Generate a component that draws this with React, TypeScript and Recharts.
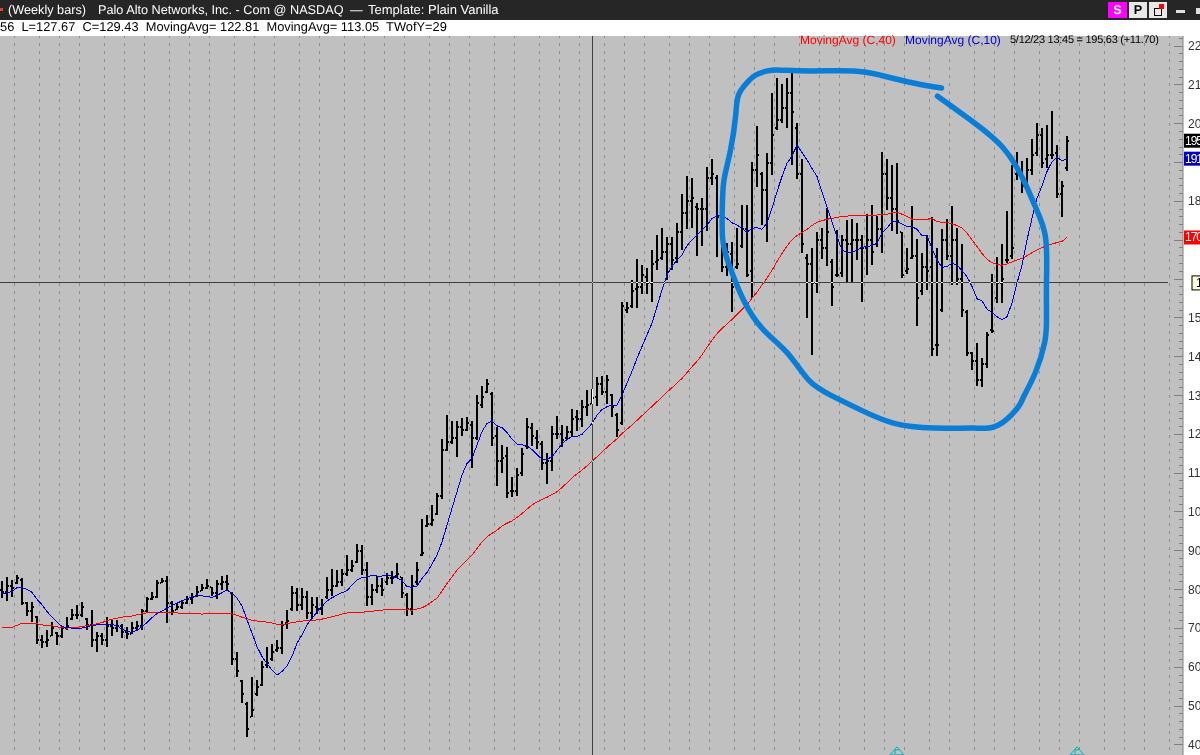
import { ComposedChart, Bar, Line, XAxis, YAxis, CartesianGrid, ReferenceLine, ReferenceDot } from 'recharts';

const highs = [
  82.3, 83.2, 82.5, 83.8, 82.9, 76.9, 76.9, 73.1, 68.3, 69.6, 71.6, 69.0, 70.7, 72.9, 75.0, 76.1, 76.8, 72.8, 74.8, 69.2,
  68.8, 72.9, 72.2, 72.2, 71.2, 70.3, 71.6, 71.8, 75.0, 78.2, 79.3, 82.5, 82.9, 83.6, 77.1, 76.5, 77.4, 78.4, 79.2, 81.0,
  81.4, 82.7, 80.8, 82.5, 83.4, 83.8, 79.3, 64.0, 56.8, 51.0, 57.5, 56.8, 61.7, 65.3, 66.0, 67.1, 72.0, 74.8, 81.0, 80.4,
  80.3, 79.6, 78.2, 78.0, 77.6, 83.2, 85.2, 85.0, 85.2, 88.9, 87.6, 91.7, 91.5, 87.0, 81.4, 83.5, 82.9, 84.2, 84.8, 86.8,
  83.3, 79.0, 83.8, 87.0, 98.3, 99.2, 101.9, 105.0, 118.9, 124.9, 123.4, 123.5, 124.1, 124.5, 123.4, 130.1, 132.4, 134.2, 130.8, 121.9,
  117.2, 116.8, 108.9, 111.2, 116.4, 124.3, 122.8, 121.1, 118.3, 115.2, 122.1, 124.7, 122.4, 122.2, 126.4, 126.2, 128.8, 131.4, 131.6, 134.8,
  135.1, 135.4, 130.5, 125.5, 154.2, 154.2, 159.8, 165.2, 163.6, 162.8, 167.5, 171.4, 173.1, 170.9, 170.9, 174.4, 181.8, 186.5, 185.9, 179.5,
  180.8, 188.8, 190.8, 186.8, 178.6, 169.2, 169.6, 173.1, 179.1, 179.1, 190.1, 199.4, 187.5, 192.4, 207.8, 211.7, 210.2, 211.7, 213.4, 200.1,
  190.8, 166.4, 167.9, 172.2, 173.1, 178.2, 165.2, 172.6, 171.4, 175.2, 175.5, 174.4, 171.4, 176.7, 179.1, 176.3, 192.6, 190.9, 189.4, 189.8,
  172.2, 167.9, 178.8, 170.2, 166.6, 171.4, 175.9, 167.9, 172.8, 175.4, 178.8, 173.1, 169.0, 152.0, 141.3, 143.5, 139.6, 146.3, 161.3, 165.8,
  169.0, 177.5, 189.4, 192.6, 190.4, 191.3, 196.0, 200.1, 198.8, 199.7, 203.3, 194.5, 185.3, 196.8,
];

const lows = [
  78.0, 76.9, 78.0, 81.6, 75.9, 73.2, 71.8, 65.8, 64.9, 65.3, 67.9, 65.6, 67.7, 69.6, 72.2, 72.5, 72.9, 69.6, 65.3, 64.0,
  65.8, 65.3, 68.2, 69.0, 67.5, 67.2, 68.5, 69.2, 69.5, 74.4, 77.2, 77.8, 81.6, 71.5, 73.5, 74.6, 75.2, 76.3, 76.3, 78.2,
  79.5, 80.1, 78.4, 77.6, 79.8, 79.9, 60.4, 57.6, 50.9, 41.9, 47.1, 52.7, 55.3, 59.8, 61.5, 64.0, 63.5, 70.0, 74.6, 74.4,
  74.6, 72.3, 72.6, 73.5, 73.6, 77.5, 78.2, 80.5, 80.8, 83.5, 84.6, 86.8, 83.9, 75.6, 76.0, 79.2, 78.2, 81.2, 81.4, 82.9,
  77.8, 73.0, 73.5, 81.2, 88.7, 96.0, 96.4, 99.4, 103.5, 115.5, 117.6, 114.2, 119.4, 120.9, 111.4, 118.5, 126.7, 130.5, 117.0, 106.8,
  109.9, 103.7, 103.8, 104.1, 109.2, 116.4, 117.0, 116.1, 110.8, 107.2, 110.4, 118.9, 116.8, 118.5, 119.5, 120.7, 121.9, 124.7, 127.67, 127.3,
  130.1, 127.9, 124.5, 119.4, 122.4, 151.4, 152.7, 152.7, 156.1, 156.1, 154.2, 162.3, 164.9, 159.8, 162.3, 164.1, 167.5, 172.9, 172.9, 165.8,
  168.4, 172.2, 184.2, 165.6, 161.9, 160.6, 151.6, 162.5, 167.9, 160.6, 155.1, 183.6, 173.8, 169.4, 186.6, 198.4, 200.1, 198.8, 189.4, 185.7,
  166.6, 149.9, 140.3, 156.6, 165.2, 163.2, 153.2, 160.5, 160.5, 159.3, 159.3, 164.9, 154.2, 161.1, 163.6, 168.4, 166.5, 177.8, 172.4, 171.4,
  160.4, 161.3, 165.2, 147.8, 155.9, 157.2, 140.0, 140.2, 151.4, 164.9, 158.5, 158.5, 150.2, 140.2, 136.6, 132.5, 132.1, 137.0, 146.0, 153.9,
  153.9, 164.1, 165.2, 185.3, 182.2, 183.8, 186.8, 191.7, 188.5, 188.5, 190.9, 180.8, 176.1, 187.7,
];

const closes = [
  79.5, 81.0, 80.5, 83.0, 76.5, 74.5, 75.5, 67.0, 66.5, 67.0, 70.0, 68.0, 70.0, 70.5, 73.5, 73.5, 75.5, 71.0, 67.0, 68.0,
  67.0, 70.5, 70.0, 70.5, 69.0, 68.5, 70.0, 70.5, 74.5, 77.5, 78.0, 81.8, 82.3, 76.5, 74.5, 75.5, 76.5, 77.5, 78.0, 79.5,
  80.5, 81.0, 79.0, 81.5, 82.0, 81.5, 62.0, 59.0, 53.0, 44.0, 49.0, 55.0, 60.0, 61.0, 64.0, 65.0, 71.0, 72.0, 79.0, 76.0,
  78.0, 74.0, 76.0, 75.0, 76.0, 80.0, 81.0, 82.0, 84.0, 85.0, 86.0, 90.0, 85.0, 78.0, 80.0, 81.0, 80.0, 83.0, 83.0, 84.0,
  79.0, 75.0, 81.0, 85.0, 89.5, 97.0, 98.0, 104.0, 116.0, 118.0, 119.0, 122.0, 121.0, 123.0, 119.0, 128.0, 129.5, 133.0, 119.0, 113.0,
  114.0, 105.0, 105.5, 109.5, 115.0, 122.0, 119.5, 118.0, 112.5, 113.0, 120.0, 120.0, 118.5, 120.5, 124.0, 124.0, 127.0, 127.5, 129.43, 133.0,
  131.0, 134.0, 127.0, 121.0, 153.0, 152.5, 157.0, 158.0, 161.0, 159.0, 164.0, 165.0, 167.0, 169.0, 165.0, 172.0, 177.0, 180.0, 181.0, 178.0,
  178.0, 186.0, 187.0, 176.0, 163.0, 167.0, 158.0, 164.0, 173.0, 161.0, 188.0, 192.0, 183.0, 190.0, 197.0, 201.0, 204.0, 208.0, 203.0, 187.0,
  169.0, 164.0, 159.0, 170.0, 168.0, 172.0, 158.0, 161.0, 170.0, 169.0, 170.0, 170.0, 168.0, 170.0, 167.0, 173.0, 187.0, 181.0, 178.0, 175.0,
  161.0, 162.5, 166.0, 155.0, 163.0, 162.0, 142.0, 143.0, 170.0, 166.0, 170.0, 160.0, 152.0, 141.0, 139.0, 134.0, 138.0, 145.5, 146.5, 159.0,
  160.0, 165.0, 168.0, 187.0, 184.0, 188.0, 192.0, 197.0, 190.0, 192.0, 192.0, 182.0, 183.93, 195.63,
];

const opens = [
  80.0, 79.5, 81.0, 81.6, 82.5, 76.5, 74.5, 73.0, 67.0, 66.5, 68.0, 68.9, 68.0, 70.0, 72.5, 73.5, 73.5, 72.5, 71.0, 67.0,
  68.0, 67.0, 70.5, 70.0, 70.5, 69.0, 68.5, 70.0, 70.5, 74.5, 77.5, 78.0, 81.8, 82.3, 76.5, 74.7, 75.5, 76.5, 77.5, 78.3,
  79.6, 80.5, 80.7, 79.0, 81.5, 82.0, 79.0, 62.0, 56.5, 50.5, 47.2, 53.0, 55.5, 60.5, 62.0, 64.5, 65.0, 71.5, 75.0, 79.0,
  76.0, 78.0, 74.0, 75.5, 75.0, 78.0, 80.0, 81.0, 82.0, 84.0, 85.0, 87.0, 90.0, 85.0, 78.0, 80.0, 81.0, 82.0, 83.0, 83.5,
  83.2, 78.5, 75.0, 82.0, 89.0, 96.5, 97.0, 99.5, 104.0, 116.0, 118.0, 119.0, 122.0, 121.0, 122.5, 119.0, 127.5, 131.0, 130.5, 119.5,
  113.0, 114.5, 105.5, 105.5, 110.0, 117.0, 121.5, 119.0, 117.5, 112.5, 113.0, 120.0, 120.0, 119.0, 120.5, 124.5, 124.0, 127.0, 127.8, 129.5,
  133.0, 131.0, 130.0, 125.0, 123.0, 152.0, 153.0, 157.5, 158.0, 160.5, 159.0, 164.5, 165.5, 167.0, 169.0, 165.5, 172.0, 177.0, 180.0, 178.5,
  178.0, 178.0, 186.0, 186.0, 176.0, 163.0, 166.5, 163.0, 168.5, 173.0, 162.0, 188.0, 187.0, 183.0, 190.0, 199.0, 201.0, 204.0, 208.0, 199.0,
  187.0, 165.5, 164.0, 159.0, 170.0, 168.0, 164.5, 161.0, 161.5, 170.0, 169.0, 170.0, 170.0, 168.0, 170.0, 169.0, 173.0, 187.0, 181.0, 178.0,
  172.0, 162.0, 165.5, 166.0, 157.0, 163.0, 163.0, 143.0, 152.0, 170.0, 166.0, 170.0, 160.0, 151.5, 141.0, 139.0, 134.0, 138.0, 147.0, 155.0,
  159.0, 165.0, 166.0, 187.0, 187.0, 184.5, 188.0, 192.5, 197.0, 191.0, 192.0, 192.5, 182.0, 188.5,
];

const ma10 = [
  78.9, 79.2, 79.5, 80.5, 80.5, 80.1, 79.3, 77.5, 76.1, 74.4, 72.9, 71.6, 70.5, 70.2, 70.1, 70.1, 70.1, 70.3, 70.8, 70.9,
  70.9, 70.9, 71.0, 70.7, 69.8, 69.2, 69.0, 69.5, 70.5, 71.5, 72.8, 73.8, 74.5, 75.2, 75.9, 76.5, 77.1, 77.6, 78.2, 78.4,
  78.4, 78.2, 78.0, 78.5, 79.2, 79.9, 79.1, 77.8, 75.8, 72.2, 68.8, 65.3, 62.8, 60.9, 59.3, 58.0, 58.9, 60.4, 62.8, 66.2,
  68.3, 70.9, 72.6, 74.3, 75.8, 77.1, 77.9, 78.6, 79.2, 79.7, 81.2, 82.5, 83.1, 83.3, 83.6, 83.5, 83.5, 83.8, 83.5, 83.0,
  82.3, 80.8, 80.6, 80.9, 82.9, 84.4, 86.6, 88.9, 92.3, 96.6, 100.9, 105.2, 109.5, 112.5, 113.8, 117.2, 120.7, 122.8, 123.4, 122.2,
  121.7, 120.5, 118.8, 117.5, 117.3, 117.0, 116.1, 114.8, 113.6, 113.6, 114.2, 115.9, 117.5, 118.7, 119.4, 119.5, 120.0, 121.3, 122.81, 124.9,
  126.4, 127.1, 127.5, 127.5, 130.1, 133.2, 136.2, 139.6, 142.6, 145.6, 148.6, 152.9, 157.2, 161.1, 163.2, 164.9, 166.2, 168.6, 170.1, 171.4,
  172.6, 173.9, 175.6, 176.3, 176.3, 175.6, 174.5, 173.9, 173.1, 172.0, 173.1, 173.2, 172.8, 174.4, 178.2, 182.5, 186.4, 189.8, 191.7, 194.5,
  192.6, 190.7, 188.5, 186.4, 182.5, 178.6, 174.8, 170.9, 167.5, 166.8, 166.9, 167.5, 168.2, 168.3, 168.6, 169.2, 171.8, 173.1, 174.8, 174.8,
  174.2, 173.5, 173.5, 172.8, 171.1, 171.1, 167.9, 164.9, 163.0, 163.2, 164.1, 163.6, 162.2, 160.6, 158.1, 154.9, 154.4, 152.2, 151.4, 150.3,
  149.5, 150.3, 153.8, 158.9, 163.6, 170.1, 175.6, 180.8, 184.0, 187.7, 190.2, 191.3, 190.5, 190.9,
];

const ma40 = [
  70.3, 70.3, 70.3, 70.8, 71.4, 71.4, 71.4, 71.2, 70.9, 70.8, 70.7, 70.4, 70.2, 70.1, 70.2, 70.3, 70.5, 70.7, 70.9, 71.2,
  71.5, 72.0, 72.4, 72.6, 72.9, 73.1, 73.2, 73.5, 73.8, 74.0, 74.1, 74.2, 74.2, 74.2, 74.1, 74.0, 73.9, 73.9, 73.8, 73.8,
  73.7, 73.8, 73.8, 73.9, 73.9, 73.9, 73.7, 73.4, 72.9, 72.5, 72.1, 71.9, 71.8, 71.6, 71.4, 71.1, 70.9, 71.2, 71.5, 71.7,
  71.9, 72.0, 72.1, 72.2, 72.4, 72.7, 73.0, 73.3, 73.7, 74.0, 74.1, 74.1, 74.2, 74.3, 74.4, 74.6, 74.7, 74.9, 75.0, 75.0,
  75.0, 74.8, 74.7, 75.0, 75.3, 76.0, 76.9, 77.8, 79.6, 81.6, 83.3, 85.0, 86.3, 87.6, 88.9, 90.6, 92.3, 93.6, 94.5, 95.3,
  96.4, 97.1, 97.7, 98.6, 99.6, 100.7, 101.8, 102.6, 103.2, 103.8, 104.5, 105.2, 106.3, 107.5, 108.8, 109.8, 110.8, 111.9, 113.05, 114.2,
  115.5, 116.6, 117.8, 118.8, 120.2, 121.3, 122.4, 123.6, 124.8, 126.0, 127.2, 128.4, 129.6, 130.9, 132.0, 133.2, 134.4, 135.9, 137.4, 138.8,
  140.5, 142.4, 144.3, 145.9, 147.3, 148.4, 149.6, 150.9, 152.2, 153.3, 155.1, 156.6, 158.5, 160.2, 162.3, 164.5, 166.6, 168.5, 170.1, 171.2,
  172.0, 172.8, 173.8, 174.6, 175.0, 175.4, 175.6, 175.9, 176.1, 176.2, 176.4, 176.4, 176.3, 176.3, 176.4, 176.5, 176.6, 176.7, 177.1, 177.2,
  176.7, 176.1, 175.4, 175.2, 175.3, 175.4, 175.6, 174.8, 174.6, 174.6, 174.2, 173.8, 173.1, 171.8, 170.1, 168.4, 166.6, 165.1, 164.2, 163.8,
  163.5, 163.9, 164.4, 164.9, 165.3, 166.0, 166.8, 167.5, 168.1, 168.6, 169.0, 169.4, 169.7, 170.7,
];

// bar numbers of the monthly dashed separators
const monthBars = [
  2, 7, 11, 15, 20, 24, 28, 33, 37, 41, 46, 50, 54, 59, 63, 68, 72, 76, 80, 85, 89, 93, 98, 102, 107, 111, 115, 120, 124, 128,
  133, 137, 141, 146, 150, 154, 159, 163, 167, 172, 176, 180, 185, 189, 194, 198, 202, 207, 211, 215, 220, 224, 228, 233,
];

// the hand drawn circle, in bar number and price
const circleBars = [
  187.9, 182.3, 175.7, 170.3, 161.7, 155.7, 153.1, 150.7, 149.1, 147.3, 146.7, 145.7, 144.5, 144.1, 144.1, 145.3, 148.3, 152.3, 157.1,
  161.3, 165.7, 171.7, 178.3, 186.3, 194.3, 199.3, 203.1, 204.3, 206.7, 208.5, 208.9, 208.9, 208.7, 206.7, 204.3, 200.3, 194.3, 187.1,
];
const circlePrices = [
  209.2, 210.5, 212.5, 213.6, 213.6, 213.8, 213.6, 212.5, 210.7, 207.4, 201.7, 193.2, 186.3, 180.3, 170.8, 164.1, 154.6, 146.9, 140.9,
  134.0, 130.1, 126.3, 122.9, 121.6, 121.6, 122.4, 126.8, 129.6, 136.0, 143.5, 149.4, 159.7, 170.8, 178.5, 185.5, 193.7, 200.4, 207.1,
];

const priceTicks = Array.from({ length: 92 }, (_, n) => 40 + n * 2);
// axis labels that sit under the value boxes
const coveredLabels = [160, 170, 190];
const signalBars = [179, 215];
const cursorBar = 118.1;
const cursorPrice = 159;

const rows = highs.map((h, i) => ({
  i,
  range: [lows[i], h],
  open: opens[i],
  close: closes[i],
  ma10: ma10[i],
  ma40: ma40[i],
}));
const circleRows = circleBars.map((i, n) => ({ i, circle: circlePrices[n] }));

const OhlcBar = (props: any) => {
  const { x, y, width, height, payload } = props;
  const [low, high] = payload.range;
  const left = Math.round(x + width / 2 - 1);
  const yOf = (v: number) => Math.round(y + ((high - v) / (high - low)) * height);
  return (
    <g fill="#000" shapeRendering="crispEdges">
      <rect x={left} y={Math.round(y)} width={2} height={Math.round(height)} />
      <rect x={left - 1} y={yOf(payload.open) - 1} width={1} height={2} />
      <rect x={left + 2} y={yOf(payload.close) - 1} width={1} height={2} />
    </g>
  );
};

const PriceTick = ({ x, y, payload }: any) => {
  const major = payload.value % 10 === 0;
  return (
    <g>
      <line x1={x - (major ? 9 : 4)} x2={x} y1={y} y2={y} stroke="#808080" shapeRendering="crispEdges" />
      {major && !coveredLabels.includes(payload.value) && (
        <text x={x + 5} y={y + 4} fontSize={12} fontFamily="Liberation Sans" fill="#333">
          {payload.value}
        </text>
      )}
    </g>
  );
};

const valueBox = (fill: string, color: string, label: string, border?: string, dx = 1, boxHeight = 14) => (props: any) => (
  <g>
    <rect x={props.cx + dx} y={props.cy - boxHeight / 2} width={40} height={boxHeight} fill={fill} stroke={border ?? 'none'} />
    <text x={props.cx + dx + 1 + (border ? 3 : 0)} y={props.cy + 4} fontSize={12} letterSpacing={-1} fontFamily="Liberation Sans" fill={color}>
      {label}
    </text>
  </g>
);

const SignalMark = ({ cx, cy }: any) => (
  <g fill="none" stroke="#00b4b4">
    <polygon points={`${cx},${cy} ${cx + 7},${cy + 8} ${cx - 7},${cy + 8}`} />
    <path d={`M${cx - 2},${cy + 7} V${cy + 3} H${cx + 2}`} />
  </g>
);

const textStyle = {
  position: 'absolute',
  whiteSpace: 'pre',
  fontFamily: 'Liberation Sans',
  fontSize: 12.7,
  lineHeight: '16px',
  textRendering: 'geometricPrecision',
} as const;

// the cursor inverts what it crosses, as the charting program does
const invert = { mixBlendMode: 'difference' } as const;

export default function App() {
  return (
    <div style={{ position: 'absolute', left: 0, top: 0, width: 1200, height: 755, overflow: 'hidden', background: '#fff' }}>
      <ComposedChart width={1200} height={755} data={rows} margin={{ top: 36, right: 0, bottom: 0, left: 0 }}>
        <CartesianGrid horizontal={false} vertical={false} fill="#c0c0c0" />
        <XAxis dataKey="i" type="number" domain={[-0.4, 236.2]} allowDataOverflow hide />
        <YAxis
          orientation="right"
          type="number"
          width={17}
          domain={[37.4, 222.6]}
          allowDataOverflow
          ticks={priceTicks}
          interval={0}
          tickSize={0}
          tickMargin={0}
          tick={<PriceTick />}
          tickLine={false}
          axisLine={{ stroke: '#808080' }}
        />
        {monthBars.map((b) => (
          <ReferenceLine key={b} x={b + 0.5} stroke="#8c8c8c" strokeDasharray="3 5" strokeDashoffset={3} shapeRendering="crispEdges" />
        ))}
        <Bar dataKey="range" barSize={2} shape={<OhlcBar />} isAnimationActive={false} />
        <Line dataKey="ma40" stroke="#ff0000" strokeWidth={1} dot={false} type="linear" shapeRendering="crispEdges" isAnimationActive={false} />
        <Line dataKey="ma10" stroke="#0000d0" strokeWidth={1} dot={false} type="linear" shapeRendering="crispEdges" isAnimationActive={false} />
        <ReferenceLine x={cursorBar} stroke="#fff" style={invert} shapeRendering="crispEdges" />
        <ReferenceLine
          stroke="#fff"
          style={invert}
          shapeRendering="crispEdges"
          segment={[
            { x: -0.4, y: cursorPrice },
            { x: 233.2, y: cursorPrice },
          ]}
        />
        <Line
          data={circleRows}
          dataKey="circle"
          stroke="#0a7ed6"
          strokeWidth={5.5}
          strokeLinecap="round"
          dot={false}
          type="natural"
          isAnimationActive={false}
        />
        {signalBars.map((b) => (
          <ReferenceDot key={b} x={b} y={39.5} ifOverflow="visible" shape={<SignalMark />} />
        ))}
        <ReferenceDot x={236.2} y={195.63} ifOverflow="visible" shape={valueBox('#000', '#fff', '195.63')} />
        <ReferenceDot x={236.2} y={191} ifOverflow="visible" shape={valueBox('#0000c0', '#fff', '191.00')} />
        <ReferenceDot x={236.2} y={170.7} ifOverflow="visible" shape={valueBox('#ff0000', '#fff', '170.70')} />
        <ReferenceDot x={236.2} y={cursorPrice} ifOverflow="visible" shape={valueBox('#ffffe0', '#000', '159.00', '#000', 9)} />
      </ComposedChart>

      <div style={{ position: 'absolute', left: 0, top: 0, width: 1200, height: 20, background: '#262626' }} />
      <div style={{ ...textStyle, left: 8, top: 2, color: '#fff' }}>(Weekly bars)</div>
      <div style={{ ...textStyle, left: 98, top: 2, color: '#fff' }}>Palo Alto Networks, Inc. - Com @ NASDAQ</div>
      <div style={{ ...textStyle, left: 350, top: 2, color: '#fff' }}>{'\u2014'}</div>
      <div style={{ ...textStyle, left: 368, top: 2, color: '#fff', fontSize: 13 }}>Template: Plain Vanilla</div>
      <div style={{ position: 'absolute', left: 0, top: 8, width: 3, height: 3, background: '#e04020' }} />
      <div style={{ ...textStyle, left: 1108, top: 2, width: 19, height: 16, background: '#ff00ff', color: '#fff', textAlign: 'center', fontWeight: 700 }}>S</div>
      <div style={{ ...textStyle, left: 1129, top: 2, width: 18, height: 16, background: '#e8e8e8', color: '#000', textAlign: 'center', fontWeight: 700 }}>P</div>
      <div style={{ position: 'absolute', left: 1149, top: 2, width: 18, height: 16, background: '#e8e8e8' }}>
        <div style={{ position: 'absolute', left: 5, top: 6, width: 6, height: 6, border: '1.5px solid #000' }} />
        <div style={{ position: 'absolute', left: 10, top: 2, width: 5, height: 5, background: '#ff0000' }} />
      </div>
      <div style={{ position: 'absolute', left: 1176, top: 10, width: 9, height: 3, background: '#e0e0e0' }} />
      <div style={{ position: 'absolute', left: 1196, top: 8, width: 4, height: 6, background: '#e0e0e0' }} />
      <div style={{ ...textStyle, left: 0, top: 19, color: '#000', fontSize: 12.85 }}>{'56  L=127.67  C=129.43  MovingAvg= 122.81  MovingAvg= 113.05  TWofY=29'}</div>
      <div style={{ ...textStyle, left: 800, top: 32, color: '#ff0000', fontSize: 12 }}>MovingAvg (C,40)</div>
      <div style={{ ...textStyle, left: 905, top: 32, color: '#0000d0', fontSize: 12 }}>MovingAvg (C,10)</div>
      <div style={{ ...textStyle, left: 1010, top: 32, color: '#000', fontSize: 11, letterSpacing: -0.27 }}>5/12/23 13:45 = 195.63 (+11.70)</div>
    </div>
  );
}
